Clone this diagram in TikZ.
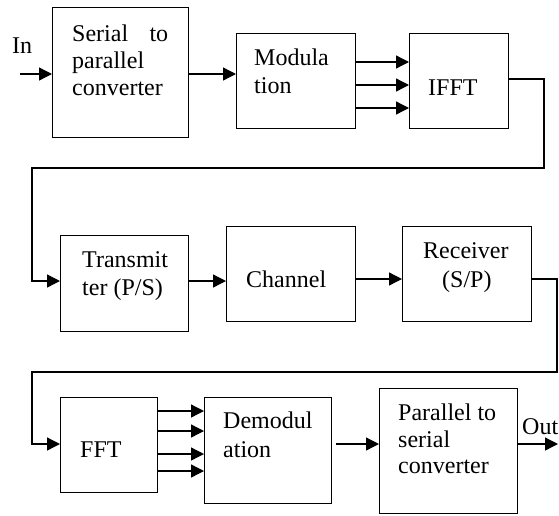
\documentclass[tikz,border=0pt]{standalone}
\usepackage{fontspec}
\setmainfont{Liberation Serif}
\usetikzlibrary{arrows.meta}
\begin{document}
\begin{tikzpicture}[x=1pt,y=-1pt,
  box/.style={draw, line width=1.3pt, anchor=north west, inner sep=0pt},
  txt/.style={anchor=base west, inner sep=0pt, font=\fontsize{24}{27}\selectfont},
  wire/.style={line width=1.3pt},
  arr/.style={wire, -{Triangle[length=13pt,width=13pt]}}]
\useasboundingbox (0,0) rectangle (559,515);
% boxes
\node[box, minimum width=136pt, minimum height=130pt] (sp) at (52,7) {};
\node[box, minimum width=119pt, minimum height=95pt] (mod) at (236,33) {};
\node[box, minimum width=99pt, minimum height=95pt] (ifft) at (409,33) {};
\node[box, minimum width=128pt, minimum height=96pt] (tx) at (60,235) {};
\node[box, minimum width=129pt, minimum height=95pt] (ch) at (226,226) {};
\node[box, minimum width=129pt, minimum height=95pt] (rx) at (402,226) {};
\node[box, minimum width=97pt, minimum height=95pt] (fft) at (60,397) {};
\node[box, minimum width=127pt, minimum height=106pt] (dem) at (204,397) {};
\node[box, minimum width=138pt, minimum height=125pt] (ps) at (379,388) {};
% texts
\node[txt] (t1a) at (72,41) {\makebox[96pt][l]{Serial\hfill to}};
\node[txt] (t1b) at (72,68) {parallel};
\node[txt] (t1c) at (72,95) {converter};
\node[txt] (t2a) at (254,65) {Modula};
\node[txt] (t2b) at (254,93) {tion};
\node[txt] (t3) at (428,95) {IFFT};
\node[txt] (t4a) at (82,267) {Transmit};
\node[txt] (t4b) at (82,295) {ter (P/S)};
\node[txt] (t5) at (246,287) {Channel};
\node[txt] (t6a) at (423,258) {Receiver};
\node[txt] (t6b) at (442,287) {(S/P)};
\node[txt] (t7) at (80,457) {FFT};
\node[txt] (t8a) at (223,428) {Demodul};
\node[txt] (t8b) at (223,457) {ation};
\node[txt] (t9a) at (398,420) {Parallel to};
\node[txt] (t9b) at (398,447) {serial};
\node[txt] (t9c) at (398,473) {converter};
\node[txt] (tin) at (12,53) {In};
\node[txt] (tout) at (522,434) {Out};
% connectors
\coordinate (in) at (20,74);
\coordinate (out) at (558,444);
\draw[arr] (in) -- (in -| sp.west);
\draw[arr] (sp.east |- in) -- (mod.west |- in);
\foreach \y in {62,85,108} \draw[arr] (mod.east |- 0,\y) -- (ifft.west |- 0,\y);
\draw[arr] (ifft.east |- 0,79) -| (544,168) -- (32,168) |- (tx.west |- 0,281);
\draw[arr] (tx.east |- 0,281) -- (ch.west |- 0,281);
\draw[arr] (ch.east |- 0,279) -- (rx.west |- 0,279);
\draw[arr] (rx.east |- 0,279) -| (557,372) -- (32,372) |- (fft.west |- 0,444);
\foreach \y in {411,431,454,471} \draw[arr] (fft.east |- 0,\y) -- (dem.west |- 0,\y);
\draw[arr] ([xshift=4pt]dem.east |- 0,444) -- (ps.west |- 0,444);
\draw[arr] (ps.east |- 0,444) -- (out);
\end{tikzpicture}
\end{document}
